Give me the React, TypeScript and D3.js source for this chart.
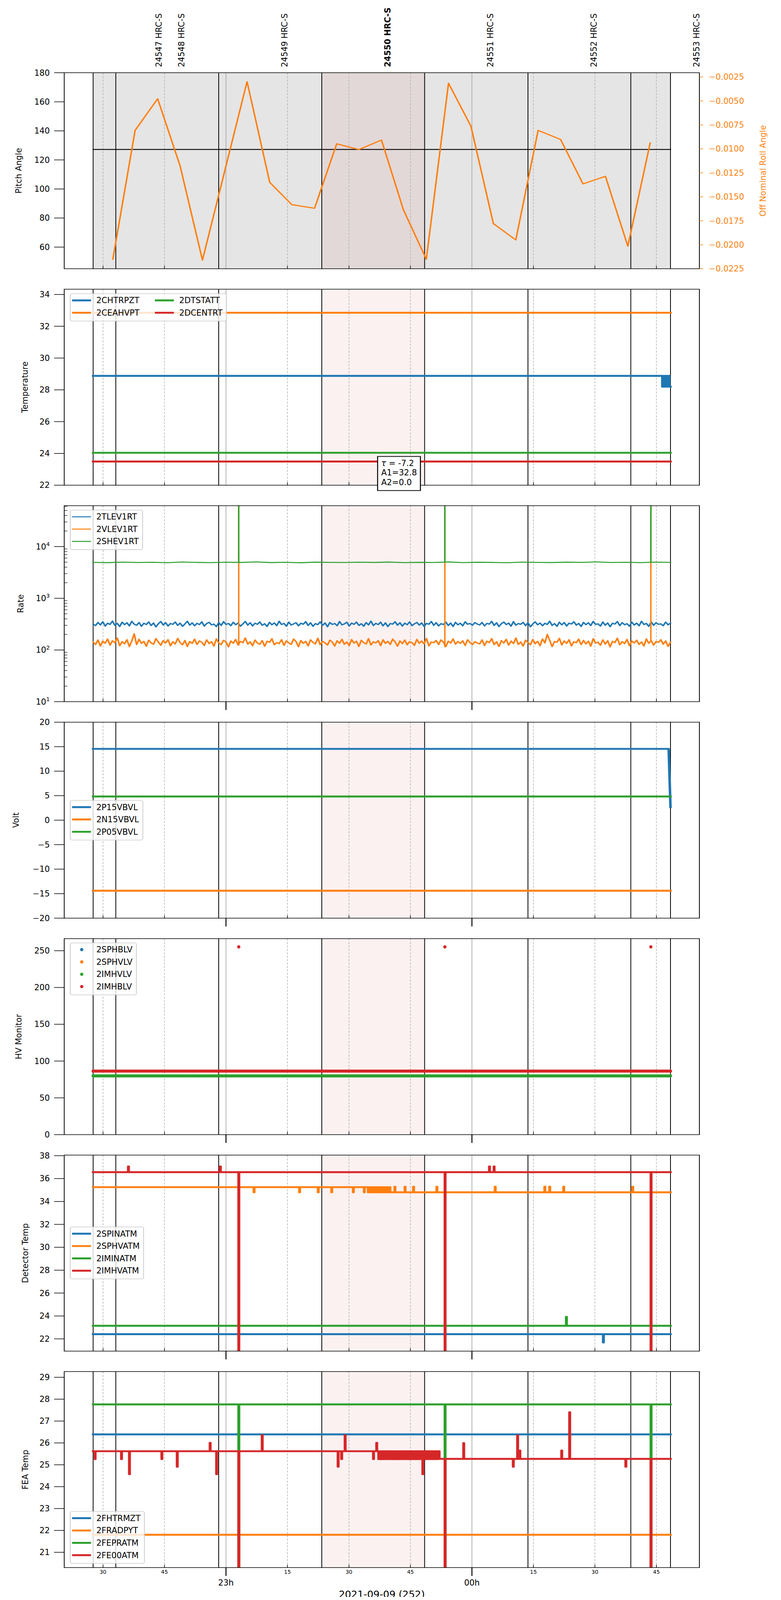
import { useEffect, useRef, useState } from 'react';
import * as d3 from 'd3';

type Pt = [number, number];
type G = d3.Selection<SVGGElement, unknown, null, undefined>;

// all times are minutes after 2021-09-09 22:00 UTC
const T0 = Date.UTC(2021, 8, 9, 22, 0, 0);
const VIEW_START = 20.54;
const VIEW_STOP = 175.49;

// observations in the window
const OBSIDS = ['24547', '24548', '24549', '24550', '24551', '24552', '24553'];
const OBSID_START = [27.59, 33.12, 58.22, 83.37, 108.46, 133.67, 158.76];
const OBSID_STOP = 168.44;
const CURRENT = '24550';
const INSTR = 'HRC-S';

// panel 1: attitude
const ROLL_T = [32.4, 37.83, 43.33, 48.79, 54.26, 65.14, 70.67, 76.07, 81.61, 87.01, 92.42, 97.94,
  103.28, 108.88, 114.29, 119.76, 125.23, 130.7, 136.15, 141.63, 147.1, 152.57, 158.04, 163.49];
const ROLL = [-0.02151, -0.00807, -0.00477, -0.01175, -0.0216, -0.00299, -0.01349, -0.01582, -0.01619,
  -0.00947, -0.01007, -0.00908, -0.01635, -0.02151, -0.00315, -0.00764, -0.01779, -0.0195, -0.00807,
  -0.00902, -0.01365, -0.01286, -0.02015, -0.00937];
const PITCH_T = [27.59, 168.44];
const PITCH = [127.2, 127.2];
const PITCH_TICKS = [60, 80, 100, 120, 140, 160, 180];
const ROLL_TICKS = [-0.0225, -0.02, -0.0175, -0.015, -0.0125, -0.01, -0.0075, -0.005, -0.0025];

// panel 2: temperatures
const TEMP_NAMES = ['2CHTRPZT', '2CEAHVPT', '2DTSTATT', '2DCENTRT'];
const TEMP_2CHTRPZT: Pt[] = [[27.59, 28.88], [166.45, 28.2], [166.6, 28.88], [166.75, 28.2], [166.95, 28.88],
  [167.1, 28.2], [167.3, 28.88], [167.45, 28.2], [167.65, 28.88], [167.8, 28.2], [168.0, 28.88],
  [168.15, 28.2], [168.44, 28.2]];
const TEMP_2CEAHVPT: Pt[] = [[27.59, 32.85], [168.44, 32.85]];
const TEMP_2DTSTATT: Pt[] = [[27.59, 24.04], [168.44, 24.04]];
const TEMP_2DCENTRT: Pt[] = [[27.59, 23.49], [168.44, 23.49]];
const TEMP_TICKS = [22, 24, 26, 28, 30, 32, 34];
const FIT_TAU = -7.2;
const FIT_A1 = 32.8;
const FIT_A2 = 0.0;

// panel 3: event rates (regularly sampled over the obsid span)
const RATE_NAMES = ['2TLEV1RT', '2VLEV1RT', '2SHEV1RT'];
const RATE_2TLEV1RT = [
  318, 296, 341, 305, 352, 289, 330, 312, 362, 300, 327, 284, 345, 309, 336, 293, 358, 316, 301, 340,
  287, 329, 311, 349, 297, 333, 280, 322, 356, 304, 338, 291, 325, 313, 347, 299, 331, 286, 319, 360,
  302, 335, 294, 328, 310, 351, 290, 324, 343, 306, 317, 283, 339, 298, 354, 312, 326, 295, 344, 308,
  332, 288, 321, 357, 303, 337, 292, 330, 314, 348, 300, 323, 285, 342, 307, 334, 296, 359, 311, 327,
  289, 346, 304, 320, 338, 293, 329, 315, 353, 298, 336, 287, 324, 309, 350, 301, 333, 282, 340, 312,
  326, 295, 355, 306, 319, 344, 291, 331, 313, 347, 299, 322, 288, 339, 305, 361, 297, 328, 310, 345,
  293, 335, 284, 325, 316, 352, 302, 337, 290, 330, 308, 349, 296, 321, 341, 303, 334, 286, 327, 314,
  356, 300, 338, 292, 323, 311, 346, 298, 332, 285, 343, 307, 329, 294, 351, 315, 326, 301, 339, 318,
  305, 341, 292, 327, 316, 358, 299, 336, 284, 322, 347, 310, 331, 289, 353, 302, 325, 314, 342, 296,
  337, 281, 319, 350, 307, 333, 294, 328, 312, 360, 298, 324, 287, 345, 306, 339, 291, 330, 318, 352,
  303, 326, 285, 341, 309, 335, 297, 357, 313, 321, 290, 348, 301, 334, 282, 329, 317, 355, 296, 338,
  308, 323, 288, 344, 304, 331, 293, 359, 311, 327, 286, 349, 300, 336, 314, 320, 295, 346, 307, 332];
const RATE_2VLEV1RT = [
  142, 128, 156, 119, 148, 135, 163, 124, 151, 138, 170, 121, 145, 132, 158, 116, 149, 205, 127, 161,
  134, 147, 118, 155, 137, 129, 166, 142, 123, 152, 136, 159, 120, 144, 131, 168, 139, 126, 153, 117,
  146, 134, 162, 128, 150, 141, 122, 157, 133, 145, 119, 164, 137, 127, 154, 143, 115, 149, 135, 160,
  125, 147, 138, 171, 130, 144, 121, 156, 136, 129, 152, 118, 148, 141, 165, 126, 139, 133, 158, 123,
  150, 137, 128, 163, 145, 116, 153, 134, 147, 120, 157, 140, 131, 169, 127, 146, 138, 124, 155, 142,
  119, 151, 135, 161, 129, 143, 122, 159, 136, 148, 117, 154, 139, 130, 166, 125, 144, 137, 152, 121,
  158, 134, 147, 128, 162, 143, 118, 150, 133, 156, 126, 145, 139, 123, 160, 135, 149, 131, 167, 120,
  143, 138, 153, 127, 157, 142, 116, 148, 136, 164, 129, 146, 134, 151, 122, 158, 140, 127, 145, 137,
  131, 157, 122, 148, 139, 166, 127, 145, 117, 152, 136, 161, 124, 149, 133, 170, 128, 143, 119, 155,
  140, 126, 159, 132, 147, 121, 163, 137, 200, 154, 116, 146, 141, 168, 125, 150, 134, 158, 120, 144,
  138, 162, 127, 153, 131, 148, 118, 165, 136, 142, 123, 157, 130, 151, 115, 147, 139, 169, 126, 145,
  133, 160, 121, 149, 137, 155, 128, 143, 119, 164, 135, 152, 124, 146, 140, 158, 129, 150, 117, 142];
const RATE_2SHEV1RT = [
  4950, 4890, 5010, 4920, 4970, 4880, 5030, 4940, 4900, 4990, 4930, 5050, 4910, 4960, 4870, 5000,
  4945, 4915, 4985, 4935, 5020, 4895, 4955, 4925, 5040, 4905, 4975, 4930, 4885, 5005, 4950, 4910,
  4995, 4940, 5060, 4920, 4965, 4900, 5015, 4945];
const RATE_SPIKE_T = [63.11, 113.4, 163.65];
const RATE_SPIKE = 1e5;

// panel 4: voltages
const VOLT_NAMES = ['2P15VBVL', '2N15VBVL', '2P05VBVL'];
const VOLT_2P15VBVL: Pt[] = [[27.59, 14.55], [167.99, 14.55], [168.44, 2.66]];
const VOLT_2N15VBVL: Pt[] = [[27.59, -14.4], [168.44, -14.4]];
const VOLT_2P05VBVL: Pt[] = [[27.59, 4.83], [168.44, 4.83]];
const VOLT_TICKS = [-20, -15, -10, -5, 0, 5, 10, 15, 20];

// panel 5: HV monitors (no samples for the first two in this window)
const HV_NAMES = ['2SPHBLV', '2SPHVLV', '2IMHVLV', '2IMHBLV'];
const HV_LEVEL = [null, null, 79.8, 86.4];
const HV_SPIKE_T = [63.11, 113.4, 163.65];
const HV_SPIKE = 255.2;
const HV_TICKS = [0, 50, 100, 150, 200, 250];

// panel 6: detector temperatures
const DET_NAMES = ['2SPINATM', '2SPHVATM', '2IMINATM', '2IMHVATM'];
const DET_2SPINATM: Pt[] = [[27.59, 22.41], [152.02, 21.68], [152.12, 22.41], [168.44, 22.41]];
const DET_2SPHVATM: Pt[] = [
  [27.59, 35.25], [66.8, 34.8], [66.9, 35.25], [77.9, 34.8], [78.0, 35.25], [82.45, 34.8], [82.55, 35.25],
  [85.74, 34.8], [85.84, 35.25], [91.02, 34.8], [91.12, 35.25], [93.69, 34.8], [93.79, 35.25],
  [94.67, 34.8], [94.95, 35.25], [95.2, 34.8], [95.5, 35.25], [95.75, 34.8], [96.05, 35.25], [96.3, 34.8],
  [96.55, 35.25], [96.85, 34.8], [97.1, 35.25], [97.4, 34.8], [97.65, 35.25], [97.9, 34.8], [98.2, 35.25],
  [98.45, 34.8], [98.75, 35.25], [99.0, 34.8], [99.25, 35.25], [99.55, 34.8], [99.8, 35.25], [100.05, 34.8],
  [101.16, 35.29], [101.26, 34.8], [103.64, 35.29], [103.74, 34.8], [105.71, 35.29], [105.81, 34.8],
  [111.4, 35.29], [111.5, 34.8], [125.63, 35.29], [125.73, 34.8], [137.73, 35.29], [137.83, 34.8],
  [138.93, 35.29], [139.03, 34.8], [142.34, 35.29], [142.44, 34.8], [159.18, 35.29], [159.28, 34.8],
  [168.44, 34.8]];
const DET_2IMINATM: Pt[] = [[27.59, 23.14], [143.0, 23.92], [143.1, 23.14], [168.44, 23.14]];
const DET_2IMHVATM: Pt[] = [
  [27.59, 36.56], [36.15, 37.06], [36.25, 36.56], [58.58, 37.06], [58.68, 36.56], [63.08, 0], [63.18, 36.56],
  [113.4, 0], [113.5, 36.56], [124.23, 37.06], [124.33, 36.56], [125.36, 37.06], [125.46, 36.56],
  [163.65, 0], [163.75, 36.56], [168.44, 36.56]];
const DET_TICKS = [22, 24, 26, 28, 30, 32, 34, 36, 38];

// panel 7: FEA temperatures
const FEA_NAMES = ['2FHTRMZT', '2FRADPYT', '2FEPRATM', '2FE00ATM'];
const FEA_2FHTRMZT: Pt[] = [[27.59, 26.39], [168.44, 26.39]];
const FEA_2FRADPYT: Pt[] = [[27.59, 21.8], [168.44, 21.8]];
const FEA_2FEPRATM: Pt[] = [[27.59, 27.76], [63.08, 0], [63.18, 27.76], [113.4, 0], [113.5, 27.76],
  [163.65, 0], [163.75, 27.76], [168.44, 27.76]];
const FEA_2FE00ATM: Pt[] = [
  [27.59, 25.62], [28.02, 25.26], [28.12, 25.62], [34.46, 25.26], [34.56, 25.62], [36.4, 24.57], [36.5, 25.62],
  [44.31, 25.26], [44.41, 25.62], [48.06, 24.91], [48.16, 25.62], [56.08, 26.0], [56.18, 25.62],
  [57.67, 24.57], [57.77, 25.62], [63.08, 0], [63.18, 25.62], [68.79, 26.35], [68.89, 25.62],
  [87.31, 24.91], [87.41, 25.62], [88.17, 25.26], [88.27, 25.62], [89.02, 26.35], [89.12, 25.62],
  [95.94, 25.26], [96.04, 25.62], [96.73, 26.0], [96.83, 25.62],
  [97.22, 25.26], [97.5, 25.62], [97.75, 25.26], [98.05, 25.62], [98.3, 25.26], [98.6, 25.62], [98.85, 25.26],
  [99.1, 25.62], [99.4, 25.26], [99.65, 25.62], [99.95, 25.26], [100.2, 25.62], [100.5, 25.26], [100.75, 25.62],
  [101.0, 25.26], [101.3, 25.62], [101.55, 25.26], [101.85, 25.62], [102.1, 25.26], [102.4, 25.62],
  [102.65, 25.26], [102.9, 25.62], [103.2, 25.26], [103.45, 25.62], [103.75, 25.26], [104.0, 25.62],
  [104.3, 25.26], [104.55, 25.62], [104.8, 25.26], [105.1, 25.62], [105.35, 25.26], [105.65, 25.62],
  [105.9, 25.26], [106.2, 25.62], [106.45, 25.26], [106.7, 25.62], [107.0, 25.26], [107.25, 25.62],
  [107.55, 25.26], [107.8, 25.62], [107.98, 24.57], [108.08, 25.62], [108.3, 25.26], [108.55, 25.62],
  [108.8, 25.26], [109.05, 25.62], [109.35, 25.26], [109.6, 25.62], [109.9, 25.26], [110.15, 25.62],
  [110.45, 25.26], [110.7, 25.62], [111.0, 25.26], [111.25, 25.62], [111.55, 25.26], [111.8, 25.62],
  [112.05, 25.27], [113.4, 0], [113.5, 25.27], [117.95, 25.99], [118.05, 25.27], [130.04, 24.91],
  [130.14, 25.27], [131.1, 26.34], [131.2, 25.27], [131.64, 25.65], [131.74, 25.27], [141.86, 25.65],
  [141.96, 25.27], [143.8, 27.4], [143.9, 25.27], [157.5, 24.91], [157.6, 25.27], [163.65, 0],
  [163.75, 25.27], [168.44, 25.27]];
const FEA_TICKS = [21, 22, 23, 24, 25, 26, 27, 28, 29];

const COLORS = ['#1f77b4', '#ff7f0e', '#2ca02c', '#d62728'];

// figure layout, in pixels of the 2000 x 5400 figure
const W = 2000;
const H = 5400;
const PLOT_L = 164.5;
const PLOT_R = 1791;
const TOP0 = 245.5;
const STEP = 730.6;
const PH = 661.5;
const FS = 27.5;
const FONT = "'DejaVu Sans', sans-serif";

const toDate = (m: number) => new Date(T0 + m * 60000);

export default function App() {
  const svgRef = useRef<SVGSVGElement>(null);
  // the figure is stretched onto the visible window if that is smaller
  const [size] = useState(() => ({
    w: Math.min(W, window.innerWidth || W),
    h: Math.min(H, window.innerHeight || H),
  }));

  useEffect(() => {
    if (!svgRef.current) return;
    const svg = d3.select(svgRef.current);
    svg.selectAll('*').remove();

    const sx = size.w / W;
    const sy = size.h / H;
    const k = sy / sx; // keeps glyphs and dots round under the stretch
    const root = svg.append('g').attr('transform', `scale(${sx},${sy})`);
    const defs = svg.append('defs');

    const x = d3.scaleUtc()
      .domain([toDate(VIEW_START), toDate(VIEW_STOP)])
      .range([PLOT_L, PLOT_R]);
    const xm = (m: number) => x(toDate(m));
    const hours = x.ticks(d3.utcHour.every(1)!);
    const quarters = x.ticks(d3.utcMinute.every(15)!).filter(d => d.getUTCMinutes() !== 0);
    const tStart = OBSID_START[0];
    const cur = OBSIDS.indexOf(CURRENT);
    const curStop = cur + 1 < OBSIDS.length ? OBSID_START[cur + 1] : OBSID_STOP;
    const clock = (n: number) => d3.range(n).map(i => tStart + (i * (OBSID_STOP - tStart)) / (n - 1));

    const text = (parent: G, tx: number, ty: number, str: string, size = FS, rotate = false) =>
      parent.append('text')
        .attr('transform', `translate(${tx},${ty}) scale(${k},1)${rotate ? ' rotate(-90)' : ''}`)
        .attr('dy', '0.35em').attr('font-size', size)
        .text(str);

    type Panel = { g: G; data: G; top: number; bottom: number };

    const makePanel = (i: number, gray = false): Panel => {
      const top = TOP0 + i * STEP;
      const bottom = top + PH;
      const g = root.append('g');
      defs.append('clipPath').attr('id', `clip-${i}`)
        .append('rect')
        .attr('x', PLOT_L).attr('y', top)
        .attr('width', PLOT_R - PLOT_L).attr('height', PH);

      if (gray) {
        g.append('rect')
          .attr('x', xm(tStart)).attr('y', top)
          .attr('width', xm(OBSID_STOP) - xm(tStart)).attr('height', PH)
          .attr('fill', '#000').attr('fill-opacity', 0.1);
      }
      g.append('rect')
        .attr('x', xm(OBSID_START[cur])).attr('y', top)
        .attr('width', xm(curStop) - xm(OBSID_START[cur])).attr('height', PH)
        .attr('fill', '#d62728').attr('fill-opacity', 0.065);

      // grid: quarter hours dashed, hours solid
      g.selectAll(null).data(quarters).join('line')
        .attr('x1', d => x(d)).attr('x2', d => x(d))
        .attr('y1', top).attr('y2', bottom)
        .attr('stroke', '#b0b0b0').attr('stroke-width', 1.5)
        .attr('stroke-dasharray', '7,4.5');
      g.selectAll(null).data(hours).join('line')
        .attr('x1', d => x(d)).attr('x2', d => x(d))
        .attr('y1', top).attr('y2', bottom)
        .attr('stroke', '#b0b0b0').attr('stroke-width', 2);

      // obsid boundaries
      g.selectAll(null).data([...OBSID_START, OBSID_STOP]).join('line')
        .attr('x1', d => xm(d)).attr('x2', d => xm(d))
        .attr('y1', top).attr('y2', bottom)
        .attr('stroke', '#000').attr('stroke-width', 2);

      const data = g.append('g').attr('clip-path', `url(#clip-${i})`);
      return { g, data, top, bottom };
    };

    const finishPanel = (
      p: Panel,
      y: (v: number) => number,
      ticks: number[],
      label: string,
      labelX: number,
      hourTicks: boolean,
    ) => {
      const { g, top, bottom } = p;
      g.append('rect')
        .attr('x', PLOT_L).attr('y', top)
        .attr('width', PLOT_R - PLOT_L).attr('height', PH)
        .attr('fill', 'none').attr('stroke', '#000').attr('stroke-width', 2);

      g.selectAll(null).data(quarters).join('line')
        .attr('x1', d => x(d)).attr('x2', d => x(d))
        .attr('y1', bottom).attr('y2', bottom - 10)
        .attr('stroke', '#000').attr('stroke-width', 1.5);
      if (hourTicks) {
        g.selectAll(null).data(hours).join('line')
          .attr('x1', d => x(d)).attr('x2', d => x(d))
          .attr('y1', bottom).attr('y2', bottom + 28)
          .attr('stroke', '#000').attr('stroke-width', 2.5);
      }

      ticks.forEach(v => {
        g.append('line')
          .attr('x1', PLOT_L - 26).attr('x2', PLOT_L)
          .attr('y1', y(v)).attr('y2', y(v))
          .attr('stroke', '#000').attr('stroke-width', 2);
        text(g, PLOT_L - 37, y(v), d3.format('d')(v)).attr('text-anchor', 'end');
      });

      text(g, labelX, (top + bottom) / 2, label, FS, true).attr('text-anchor', 'middle');
    };

    const legend = (
      p: Panel,
      names: string[],
      top: number,
      opts: { cols?: number; kind?: 'line' | 'dot'; lw?: number } = {},
    ) => {
      const cols = opts.cols ?? 1;
      const rows = Math.ceil(names.length / cols);
      const y0 = p.top + top;
      const lg = p.g.append('g');
      const box = lg.append('rect')
        .attr('x', 180).attr('y', y0)
        .attr('height', rows * 41.6 + 9).attr('rx', 5.5 * k).attr('ry', 5.5)
        .attr('fill', '#fff').attr('fill-opacity', 0.8)
        .attr('stroke', '#cccccc').attr('stroke-width', 2);
      let colX = 180;
      let right = 0;
      for (let c = 0; c < cols; c++) {
        let maxW = 0;
        for (let r = 0; r < rows; r++) {
          const i = c * rows + r;
          if (i >= names.length) break;
          const cy = y0 + 22.8 + r * 41.6;
          if (opts.kind === 'dot') {
            lg.append('ellipse')
              .attr('cx', colX + 38.6 * k).attr('cy', cy)
              .attr('rx', 5.5 * k).attr('ry', 5.5)
              .attr('fill', COLORS[i]);
          } else {
            lg.append('line')
              .attr('x1', colX + 6 * k).attr('x2', colX + 70 * k)
              .attr('y1', cy).attr('y2', cy)
              .attr('stroke', COLORS[i]).attr('stroke-width', opts.lw ?? 6.5);
          }
          const t = text(lg, colX + 88 * k, cy, names[i]);
          maxW = Math.max(maxW, (t.node() as SVGTextElement).getComputedTextLength() * k);
        }
        right = colX + 88 * k + maxW;
        colX = right + 46 * k;
      }
      box.attr('width', right + 13 * k - 180);
    };

    const drawSeries = (
      p: Panel,
      y: (v: number) => number,
      pts: Pt[],
      color: string,
      lw: number,
      curve: d3.CurveFactory = d3.curveStepAfter,
    ) => {
      const line = d3.line<Pt>().x(d => xm(d[0])).y(d => y(d[1])).curve(curve);
      p.data.append('path').datum(pts)
        .attr('d', line)
        .attr('fill', 'none').attr('stroke', color).attr('stroke-width', lw)
        .attr('stroke-linejoin', 'round').attr('stroke-linecap', 'square');
    };

    // ---- obsid labels along the top
    OBSIDS.forEach((id, i) => {
      text(root, xm(OBSID_START[i]) + 168.5, 226.4, `${id} ${INSTR}`, FS, true)
        .attr('font-weight', id === CURRENT ? 'bold' : 'normal');
    });

    // ---- panel 1: pitch / roll
    const p1 = makePanel(0, true);
    const y1 = d3.scaleLinear().domain([45.1, 180]).range([p1.bottom, p1.top]);
    const y1r = d3.scaleLinear().domain([-0.0225, -0.00206]).range([p1.bottom, p1.top]);
    drawSeries(p1, y1, d3.zip(PITCH_T, PITCH) as Pt[], '#000', 3, d3.curveLinear);
    drawSeries(p1, y1r, d3.zip(ROLL_T, ROLL) as Pt[], COLORS[1], 3.8, d3.curveLinear);
    finishPanel(p1, y1, PITCH_TICKS, 'Pitch Angle', 47.8, false);
    ROLL_TICKS.forEach(v => {
      p1.g.append('line')
        .attr('x1', PLOT_R).attr('x2', PLOT_R + 9.6)
        .attr('y1', y1r(v)).attr('y2', y1r(v))
        .attr('stroke', COLORS[1]).attr('stroke-width', 2);
      text(p1.g, PLOT_R + 24, y1r(v), d3.format('.4f')(v)).attr('fill', COLORS[1]);
    });
    text(p1.g, 1953.4, (p1.top + p1.bottom) / 2, 'Off Nominal Roll Angle', FS, true)
      .attr('text-anchor', 'middle').attr('fill', COLORS[1]);

    // ---- panel 2: temperatures
    const p2 = makePanel(1);
    const y2 = d3.scaleLinear().domain([22, 34.33]).range([p2.bottom, p2.top]);
    [TEMP_2CHTRPZT, TEMP_2CEAHVPT, TEMP_2DTSTATT, TEMP_2DCENTRT]
      .forEach((s, i) => drawSeries(p2, y2, s, COLORS[i], 6.5));
    finishPanel(p2, y2, TEMP_TICKS, 'Temperature', 63.8, false);
    legend(p2, TEMP_NAMES, 15, { cols: 2 });
    const fit = p2.g.append('g');
    const fitBox = fit.append('rect')
      .attr('x', 967).attr('y', p2.top + 564.5).attr('height', 115)
      .attr('fill', '#fff').attr('stroke', '#000').attr('stroke-width', 2.5);
    const fitLines = [
      { key: 'τ', s: ` = ${d3.format('.1f')(FIT_TAU).replace('−', '-')}` },
      { key: 'A1', s: `=${d3.format('.1f')(FIT_A1)}` },
      { key: 'A2', s: `=${d3.format('.1f')(FIT_A2)}` },
    ];
    let fitW = 0;
    fitLines.forEach((l, i) => {
      const t = text(fit, 967 + 12.3 * k, p2.top + 587.3 + i * 32, '');
      t.append('tspan').attr('font-style', l.key === 'τ' ? 'italic' : 'normal').text(l.key);
      t.append('tspan').text(l.s);
      fitW = Math.max(fitW, (t.node() as SVGTextElement).getComputedTextLength() * k);
    });
    fitBox.attr('width', fitW + 24 * k);

    // ---- panel 3: rates (log)
    const p3 = makePanel(2);
    const y3 = d3.scaleLog().domain([10, 61800]).range([p3.bottom, p3.top]);
    const rateSeries = [RATE_2TLEV1RT, RATE_2VLEV1RT, RATE_2SHEV1RT];
    rateSeries.forEach((vals, i) => {
      const ts = clock(vals.length);
      drawSeries(p3, y3, ts.map((t, j) => [t, vals[j]] as Pt), COLORS[i], i < 2 ? 4.2 : 3.4, d3.curveLinear);
      if (i > 0) {
        RATE_SPIKE_T.forEach(t => {
          const j = d3.minIndex(ts, d => Math.abs(d - t));
          drawSeries(p3, y3, [[t, vals[j]], [t, RATE_SPIKE]], COLORS[i], 3.6, d3.curveLinear);
        });
      }
    });
    finishPanel(p3, y3, [], 'Rate', 53, true);
    for (let e = 1; e <= 4; e++) {
      const yy = y3(10 ** e);
      p3.g.append('line')
        .attr('x1', PLOT_L - 26).attr('x2', PLOT_L).attr('y1', yy).attr('y2', yy)
        .attr('stroke', '#000').attr('stroke-width', 2);
      const t = text(p3.g, PLOT_L - 37, yy, '').attr('text-anchor', 'end');
      t.append('tspan').text('10');
      t.append('tspan').attr('font-size', FS * 0.7).attr('dy', '-0.6em').text(String(e));
    }
    for (let e = 1; e <= 4; e++) {
      for (let m = 2; m <= 9; m++) {
        const v = m * 10 ** e;
        if (v > 61800) continue;
        p3.g.append('line')
          .attr('x1', PLOT_L).attr('x2', PLOT_L + 8).attr('y1', y3(v)).attr('y2', y3(v))
          .attr('stroke', '#000').attr('stroke-width', 1.5);
      }
    }
    legend(p3, RATE_NAMES, 14.6, { lw: 3.2 });

    // ---- panel 4: voltages
    const p4 = makePanel(3);
    const y4 = d3.scaleLinear().domain([-20, 20]).range([p4.bottom, p4.top]);
    [VOLT_2P15VBVL, VOLT_2N15VBVL, VOLT_2P05VBVL]
      .forEach((s, i) => drawSeries(p4, y4, s, COLORS[i], 6.5, d3.curveLinear));
    finishPanel(p4, y4, VOLT_TICKS, 'Volt', 41, true);
    legend(p4, VOLT_NAMES, 264);

    // ---- panel 5: HV monitors (dots)
    const p5 = makePanel(4);
    const y5 = d3.scaleLinear().domain([0, 266.4]).range([p5.bottom, p5.top]);
    const hvClock = clock(353);
    HV_LEVEL.forEach((lvl, i) => {
      if (lvl === null) return;
      p5.data.selectAll(null).data(hvClock).join('ellipse')
        .attr('cx', d => xm(d)).attr('cy', y5(lvl))
        .attr('rx', 5.3 * k).attr('ry', 5.3)
        .attr('fill', COLORS[i]);
    });
    p5.data.selectAll(null).data(HV_SPIKE_T).join('ellipse')
      .attr('cx', d => xm(d)).attr('cy', y5(HV_SPIKE))
      .attr('rx', 5.5 * k).attr('ry', 5.5)
      .attr('fill', COLORS[3]);
    finishPanel(p5, y5, HV_TICKS, 'HV Monitor', 47.6, true);
    legend(p5, HV_NAMES, 14.2, { kind: 'dot' });

    // ---- panel 6: detector temps
    const p6 = makePanel(5);
    const y6 = d3.scaleLinear().domain([20.93, 38.05]).range([p6.bottom, p6.top]);
    [DET_2SPINATM, DET_2SPHVATM, DET_2IMINATM, DET_2IMHVATM]
      .forEach((s, i) => drawSeries(p6, y6, s, COLORS[i], 6.5));
    finishPanel(p6, y6, DET_TICKS, 'Detector Temp', 64.2, true);
    legend(p6, DET_NAMES, 242.5);

    // ---- panel 7: FEA temps
    const p7 = makePanel(6);
    const y7 = d3.scaleLinear().domain([20.3, 29.26]).range([p7.bottom, p7.top]);
    [FEA_2FHTRMZT, FEA_2FRADPYT, FEA_2FEPRATM, FEA_2FE00ATM]
      .forEach((s, i) => drawSeries(p7, y7, s, COLORS[i], 6.5));
    finishPanel(p7, y7, FEA_TICKS, 'FEA Temp', 65, true);
    legend(p7, FEA_NAMES, 472);

    // ---- time axis labels under the last panel
    quarters.forEach(d => {
      text(root, x(d), p7.bottom + 15.3, d3.utcFormat('%M')(d), 18).attr('text-anchor', 'middle');
    });
    hours.forEach(d => {
      text(root, x(d), p7.bottom + 50.5, d3.utcFormat('%Hh')(d)).attr('text-anchor', 'middle');
    });
    text(root, (PLOT_L + PLOT_R) / 2, p7.bottom + 90.3, d3.utcFormat('%Y-%m-%d (%j)')(new Date(T0)), 33)
      .attr('text-anchor', 'middle');
  }, [size]);

  return (
    <svg
      ref={svgRef}
      width={size.w}
      height={size.h}
      fontFamily={FONT}
      style={{ display: 'block', margin: '-8px -8px -8px -8px', background: '#fff' }}
    />
  );
}
